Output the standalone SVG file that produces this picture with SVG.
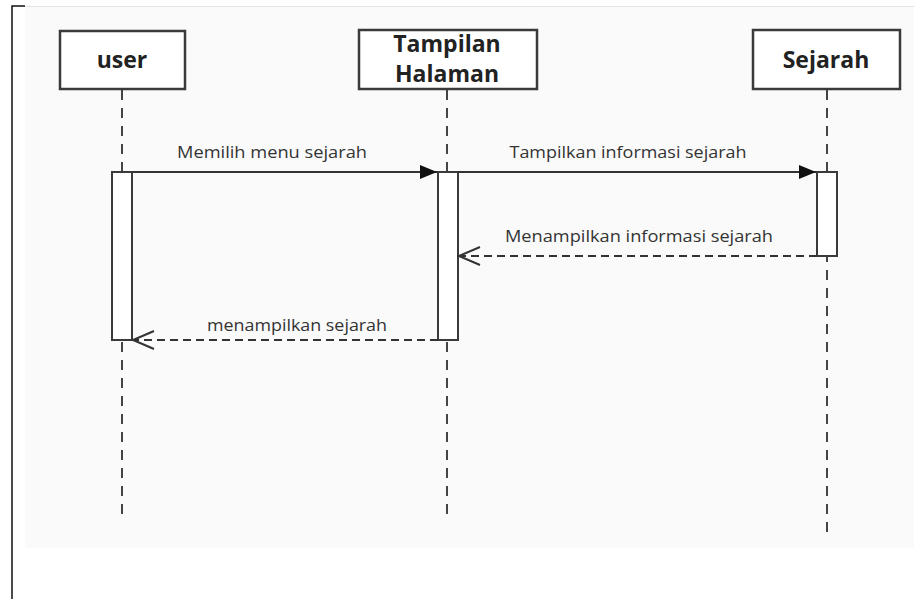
<svg xmlns="http://www.w3.org/2000/svg" width="914" height="599" viewBox="0 0 914 599">
<defs>
<style>
.box{fill:#ffffff;stroke:#3a3a3a;stroke-width:2.5}
.title{font-family:"Open Sans","Liberation Sans",sans-serif;font-weight:bold;font-size:23px;fill:#222;text-anchor:middle}
.life{stroke:#444;stroke-width:2;stroke-dasharray:10 8;fill:none}
.act{fill:#ffffff;stroke:#3a3a3a;stroke-width:2}
.msg{stroke:#333;stroke-width:2;fill:none}
.ret{stroke:#333;stroke-width:2;fill:none;stroke-dasharray:8 5}
.lbl{font-family:"Open Sans","Liberation Sans",sans-serif;font-size:17px;fill:#333;text-anchor:middle}
</style>
<marker id="filled" markerWidth="18" markerHeight="14" refX="17" refY="7" orient="auto" markerUnits="userSpaceOnUse">
<path d="M0,0 L17,7 L0,14 Z" fill="#111"/>
</marker>
<marker id="open" markerWidth="24" markerHeight="20" refX="22" refY="10" orient="auto" markerUnits="userSpaceOnUse">
<path d="M1,1 L22,10 L1,19" fill="none" stroke="#333" stroke-width="2"/>
</marker>
</defs>
<rect x="0" y="0" width="914" height="599" fill="#ffffff"/>
<rect x="25" y="6" width="889" height="542" fill="#fafafa"/>
<line x1="25" y1="6.5" x2="914" y2="6.5" stroke="#e4e4e4" stroke-width="1"/>
<path d="M12,599 L12,6 L25,6" fill="none" stroke="#111" stroke-width="1.5"/>

<g id="lifelines">
<line class="life" x1="122" y1="90" x2="122" y2="520"/>
<line class="life" x1="447" y1="90" x2="447" y2="520"/>
<line class="life" x1="827" y1="90" x2="827" y2="532"/>
</g>

<g id="user">
<rect class="box" x="60" y="31" width="125" height="58"/>
<text class="title" x="122" y="68">user</text>
</g>
<g id="tampilan-halaman">
<rect class="box" x="359" y="30" width="178" height="59"/>
<text class="title" x="447" y="52">Tampilan</text>
<text class="title" x="447" y="82">Halaman</text>
</g>
<g id="sejarah">
<rect class="box" x="753" y="30" width="147" height="59"/>
<text class="title" x="826" y="68">Sejarah</text>
</g>

<g id="activations">
<rect class="act" x="112" y="172" width="20" height="168"/>
<rect class="act" x="438" y="172" width="20" height="168"/>
<rect class="act" x="817" y="172" width="20" height="84"/>
</g>

<g id="connectors">
<line class="msg" x1="132" y1="172" x2="437" y2="172" marker-end="url(#filled)"/>
<text class="lbl" x="272" y="158" textLength="190" lengthAdjust="spacingAndGlyphs">Memilih menu sejarah</text>
<line class="msg" x1="458" y1="172" x2="816" y2="172" marker-end="url(#filled)"/>
<text class="lbl" x="628" y="158" textLength="237" lengthAdjust="spacingAndGlyphs">Tampilkan informasi sejarah</text>
<line class="ret" x1="817" y1="256" x2="459" y2="256" marker-end="url(#open)"/>
<text class="lbl" x="639" y="242" textLength="268" lengthAdjust="spacingAndGlyphs">Menampilkan informasi sejarah</text>
<line class="ret" x1="438" y1="340" x2="133" y2="340" marker-end="url(#open)"/>
<text class="lbl" x="297" y="331" textLength="180" lengthAdjust="spacingAndGlyphs">menampilkan sejarah</text>
</g>
</svg>
